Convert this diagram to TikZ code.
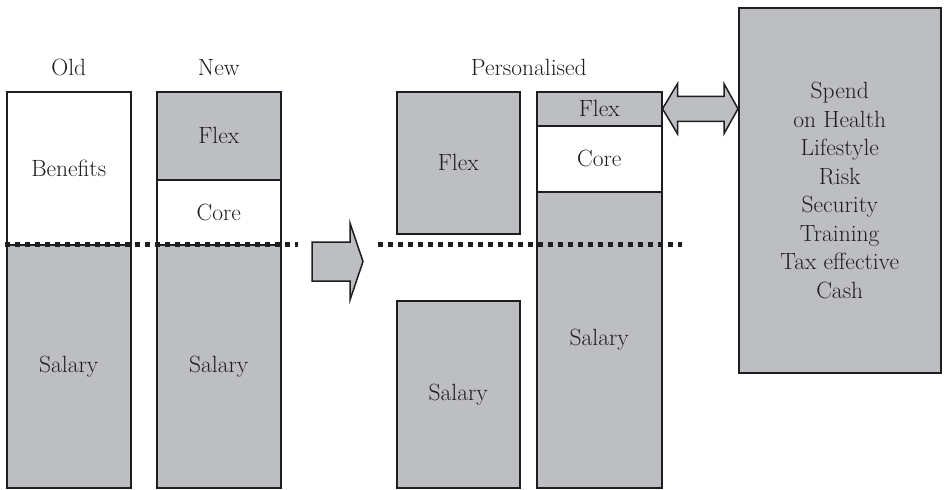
\documentclass[tikz,border=0pt]{standalone}
\usetikzlibrary{positioning,calc}
\definecolor{boxgray}{RGB}{189,190,194}
\definecolor{inkgray}{RGB}{30,30,32}
\begin{document}
\begin{tikzpicture}[x=1pt,y=-1pt,
                    every node/.style = {font=\fontsize{23.5}{28.5}\selectfont, text=inkgray},
                    part/.style = {draw=inkgray, line width=1.5pt, inner sep=0pt, anchor=north west, align=center},
                    gpart/.style = {part, fill=boxgray},
                    wpart/.style = {part, fill=white},
                    cut/.style = {line width=5pt, dash pattern=on 5pt off 5pt, inkgray},
                    fatarrow/.style = {draw=inkgray, line width=1.5pt, fill=boxgray, line join=miter}]
                    \useasboundingbox (0,0) rectangle (946,490);

                    % old and new packages
                    \node [wpart, minimum width=124pt, minimum height=153pt] (oldben) at (6,91) {Benefits};
                    \node [gpart, minimum width=124pt, minimum height=243pt] (oldsal) at (6,244) {Salary};

                    \node [gpart, minimum width=124pt, minimum height=88pt] (newflex) at (156,91) {Flex};
                    \node [wpart, minimum width=124pt, minimum height=65pt] (newcore) at (156,179) {Core};
                    \node [gpart, minimum width=124pt, minimum height=243pt] (newsal) at (156,244) {Salary};

                    \node [above=15pt of oldben.north, inner sep=0pt] (old) {Old};
                    \node [above=15pt of newflex.north, inner sep=0pt] (new) {New};

                    % personalised package
                    \node [gpart, minimum width=123pt, minimum height=142pt] (pflex) at (396,91) {Flex};
                    \node [gpart, minimum width=123pt, minimum height=187pt] (psal) at (396,300) {Salary};

                    \node [gpart, minimum width=125pt, minimum height=34pt] (cflex) at (536,91) {Flex};
                    \node [wpart, minimum width=125pt, minimum height=66pt] (ccore) at (536,125) {Core};
                    \node [gpart, minimum width=125pt, minimum height=296pt] (csal) at (536,191) {Salary};

                    \node [above=15pt, inner sep=0pt] (pers) at ($(pflex.north)!0.5!(cflex.north)$) {Personalised};

                    % spending options
                    \node [gpart, minimum width=202pt, minimum height=365pt] (spend) at (738,7)
                        {Spend\\on Health\\Lifestyle\\Risk\\Security\\Training\\Tax effective\\Cash};

                    % salary line
                    \draw [cut] (5,244) -- (298,244);
                    \draw [cut] (378,244) -- (682,244);

                    % block arrow old/new -> personalised
                    \draw [fatarrow] (312,242) -- (350,242) -- (350,223) -- (363,261.5)
                        -- (350,300) -- (350,281) -- (312,281) -- cycle;

                    % two-way arrow flex <-> spend
                    \coordinate (l) at (cflex.east);
                    \coordinate (r) at (cflex.east -| spend.west);
                    \draw [fatarrow] (l) -- ($(l)+(15,-25)$) -- ($(l)+(15,-12.5)$) -- ($(r)+(-14,-12.5)$)
                        -- ($(r)+(-14,-25)$) -- (r) -- ($(r)+(-14,25)$) -- ($(r)+(-14,12.5)$)
                        -- ($(l)+(15,12.5)$) -- ($(l)+(15,25)$) -- cycle;
                \end{tikzpicture}
\end{document}
